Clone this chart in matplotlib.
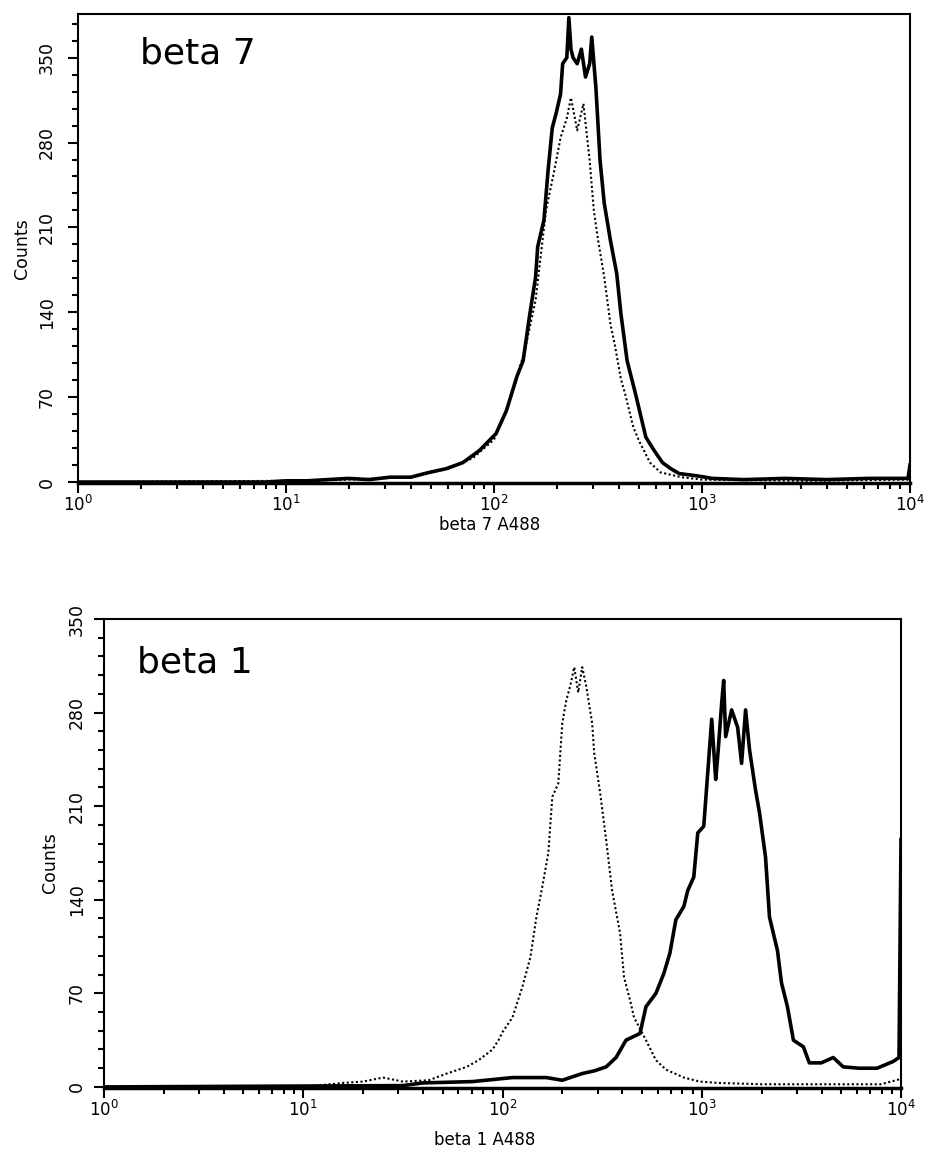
import numpy as np
import matplotlib
matplotlib.use("Agg")
import matplotlib.pyplot as plt
from matplotlib.ticker import LogLocator, NullFormatter

plt.rcParams['font.family'] = ['DejaVu Sans']
plt.rcParams['mathtext.fontset'] = 'dejavusans'

#==========================================================================
# DATA  (x = log10 of A488 intensity, y = counts)
#==========================================================================
b7_logx = [0.0, 0.5, 0.9, 1.0, 1.1, 1.2, 1.3, 1.4, 1.5, 1.6, 1.69, 1.77, 1.85, 1.93,
           2.01, 2.06, 2.11, 2.14, 2.17, 2.20, 2.21, 2.24, 2.26, 2.28, 2.30, 2.32,
           2.33, 2.35, 2.36, 2.37, 2.38, 2.40, 2.42, 2.44, 2.46, 2.47, 2.49, 2.51,
           2.53, 2.56, 2.59, 2.61, 2.64, 2.68, 2.73, 2.77, 2.81, 2.85, 2.89, 2.98,
           3.05, 3.2, 3.4, 3.6, 3.8, 3.99, 4.0]
b7_counts = [0, 0, 0, 1, 1, 2, 3, 2, 4, 4, 8, 11, 16, 26,
             40, 59, 87, 100, 136, 169, 194, 216, 257, 292, 305, 320,
             345, 350, 383, 357, 350, 345, 357, 334, 345, 367, 325, 265,
             230, 199, 172, 139, 100, 73, 37, 26, 16, 11, 7, 5,
             3, 2, 3, 2, 3, 3, 14]

iso7_logx = [0.0, 1.0, 1.3, 1.6, 1.8, 1.9, 2.0, 2.05, 2.10, 2.15, 2.20, 2.25, 2.29,
             2.32, 2.35, 2.37, 2.40, 2.43, 2.46, 2.48, 2.50, 2.53, 2.56, 2.58, 2.61,
             2.63, 2.67, 2.70, 2.75, 2.80, 2.9, 3.0, 3.5, 4.0]
iso7_counts = [0, 1, 2, 4, 12, 20, 35, 55, 80, 110, 150, 224, 257,
               284, 300, 317, 290, 312, 265, 224, 200, 169, 130, 114, 85,
               73, 45, 33, 16, 8, 4, 2, 1, 2]

b1_logx = [0.0, 1.5, 1.6, 1.85, 2.05, 2.22, 2.30, 2.40, 2.46, 2.52, 2.57, 2.62, 2.69,
           2.72, 2.77, 2.81, 2.84, 2.87, 2.91, 2.93, 2.96, 2.98, 3.01, 3.03, 3.05,
           3.07, 3.08, 3.10, 3.11, 3.12, 3.15, 3.18, 3.20, 3.22, 3.24, 3.27, 3.29,
           3.32, 3.34, 3.38, 3.40, 3.43, 3.46, 3.51, 3.54, 3.60, 3.66, 3.71, 3.79,
           3.88, 3.96, 3.99, 4.0]
b1_counts = [0, 1, 3, 4, 7, 7, 5, 10, 12, 15, 22, 35, 40,
             60, 70, 85, 100, 125, 135, 147, 157, 190, 195, 235, 275,
             230, 247, 287, 304, 262, 282, 269, 242, 282, 252, 222, 205,
             172, 127, 102, 78, 60, 35, 30, 18, 18, 22, 15, 14,
             14, 19, 22, 185]

iso1_logx = [0.0, 1.0, 1.2, 1.3, 1.4, 1.5, 1.63, 1.72, 1.82, 1.88, 1.95, 1.98, 2.00,
             2.05, 2.10, 2.14, 2.17, 2.20, 2.23, 2.25, 2.28, 2.30, 2.32, 2.34, 2.36,
             2.38, 2.40, 2.42, 2.45, 2.46, 2.49, 2.52, 2.55, 2.59, 2.61, 2.64, 2.66,
             2.72, 2.77, 2.82, 2.91, 2.99, 3.08, 3.3, 3.6, 3.9, 4.0]
iso1_counts = [0, 0, 3, 4, 7, 4, 5, 10, 15, 20, 28, 35, 41,
               52, 75, 97, 127, 150, 175, 217, 227, 272, 289, 300, 314,
               295, 314, 300, 272, 250, 220, 185, 147, 115, 82, 65, 52,
               35, 20, 13, 7, 4, 3, 2, 2, 2, 6]

decade_labels = [r'$10^{0}$', r'$10^{1}$', r'$10^{2}$', r'$10^{3}$', r'$10^{4}$']

#==========================================================================
# FIGURE
#==========================================================================
fig = plt.figure(figsize=(9.31, 11.5), dpi=100)
ax1 = fig.add_axes([78/931, 1-483/1150, 832/931, 469/1150])
ax2 = fig.add_axes([104/931, 1-1088/1150, 797/931, 469/1150])


def style_axis(ax, ymax, xlabel, ypad, xlab_pos, ylab_pos):
    ax.set_xscale('log')
    ax.set_xlim(1, 1e4)
    ax.set_ylim(-0.8, ymax)
    ax.set_xticks([1, 10, 100, 1000, 10000])
    ax.set_xticklabels(decade_labels, fontsize=12)
    ax.xaxis.set_minor_locator(LogLocator(base=10, subs=np.arange(2, 10)))
    ax.xaxis.set_minor_formatter(NullFormatter())
    ax.set_yticks(np.arange(0, 351, 70))
    ax.set_yticks(np.arange(0, ymax, 14), minor=True)
    ax.tick_params(axis='both', which='major', length=7, width=1.5, direction='out', color='k')
    ax.tick_params(axis='both', which='minor', length=4, width=1.5, direction='out', color='k')
    ax.tick_params(axis='y', which='major', labelrotation=90, labelsize=12.5, pad=ypad)
    ax.tick_params(axis='x', which='major', pad=1.5)
    for lbl in ax.get_yticklabels():
        lbl.set_verticalalignment('center')
    for s in ax.spines.values():
        s.set_linewidth(1.5)
    ax.spines['bottom'].set_linewidth(2.5)
    ax.set_xlabel(xlabel, fontsize=12)
    ax.set_ylabel('Counts', fontsize=12.5)
    ax.xaxis.set_label_coords(xlab_pos[0], xlab_pos[1])
    ax.yaxis.set_label_coords(ylab_pos[0], ylab_pos[1])


# top panel: beta 7
ax1.plot(10 ** np.array(iso7_logx), iso7_counts, color='k',
         lw=1.5, linestyle=(0, (1, 1.2)))
ax1.plot(10 ** np.array(b7_logx), b7_counts, color='k', lw=2.6)
style_axis(ax1, 386, 'beta 7 A488', 9, (0.495, -0.071), (-0.056, 0.5))
ax1.text(0.0745, 0.895, 'beta 7', transform=ax1.transAxes, fontsize=26,
         va='baseline', ha='left')

# bottom panel: beta 1
ax2.plot(10 ** np.array(iso1_logx), iso1_counts, color='k',
         lw=1.5, linestyle=(0, (1, 1.2)))
ax2.plot(10 ** np.array(b1_logx), b1_counts, color='k', lw=2.6)
style_axis(ax2, 350, 'beta 1 A488', 6, (0.478, -0.092), (-0.056, 0.48))
ax2.text(0.041, 0.885, 'beta 1', transform=ax2.transAxes, fontsize=26,
         va='baseline', ha='left')

fig.savefig('out.png', dpi=100)
